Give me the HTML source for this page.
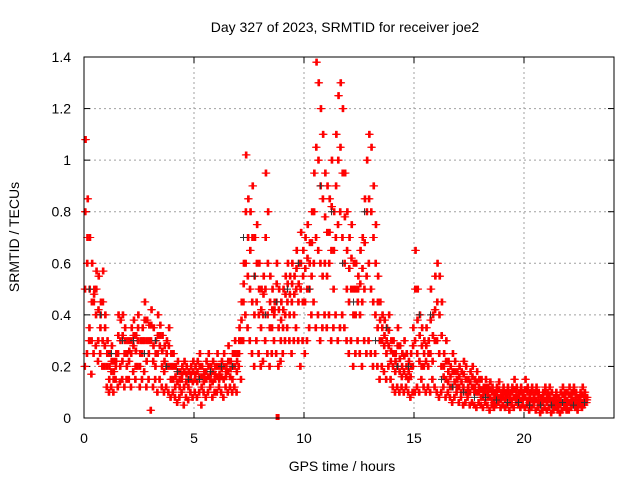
<!DOCTYPE html>
<html><head><meta charset="utf-8"><style>
body{margin:0;background:#fff}
svg text{font-family:"Liberation Sans",sans-serif;font-size:14px;fill:#000}
</style></head><body>
<svg id="chart" width="640" height="480" viewBox="0 0 640 480" xmlns="http://www.w3.org/2000/svg">
<rect width="640" height="480" fill="#fff"/>
<text x="345" y="32" text-anchor="middle">Day 327 of 2023, SRMTID for receiver joe2</text>
<text x="19" y="237" text-anchor="middle" transform="rotate(-90 19 237)">SRMTID / TECUs</text>
<text x="342" y="471" text-anchor="middle">GPS time / hours</text>
<g id="grid"></g>
<g id="ticks"></g>
<g id="red" stroke="#f00" stroke-width="1.1"></g>
<g id="black" stroke="#333" stroke-width="1"></g>
<rect x="84" y="57" width="530" height="361" fill="none" stroke="#000" stroke-width="1"/>
</svg>
<script>
const xTicks=[0,5,10,15,20];
const yTicks=[0,0.2,0.4,0.6,0.8,1,1.2,1.4];
const yTickLabels=["0","0.2","0.4","0.6","0.8","1","1.2","1.4"];
const redHigh=[1.08,0.85,0.7,0.6,0.5,0.57,0.55,0.45,0.57,0.4,
0.3,0.25,0.28,0.22,0.25,0.4,0.38,0.4,0.35,0.3,
0.3,0.35,0.38,0.32,0.4,0.3,0.35,0.45,0.38,0.36,
0.42,0.35,0.3,0.4,0.36,0.32,0.28,0.3,0.35,0.25,
0.25,0.2,0.22,0.18,0.2,0.22,0.2,0.18,0.2,0.22,
0.2,0.22,0.25,0.2,0.18,0.22,0.25,0.2,0.22,0.2,
0.25,0.2,0.22,0.25,0.2,0.28,0.22,0.25,0.3,0.25,
0.35,0.45,0.6,1.02,0.85,0.8,0.9,0.7,0.75,0.6,
0.5,0.55,0.95,0.8,0.55,0.5,0.45,0.6,0.5,0.45,
0.5,0.55,0.6,0.55,0.6,0.55,0.65,0.6,0.72,0.65,
0.7,0.75,0.68,0.8,0.95,1.38,1.3,1.2,1.1,0.95,
0.9,0.85,1.0,0.8,1.1,1.25,1.3,1.2,0.95,0.8,
0.7,0.75,0.6,0.6,0.55,0.65,0.7,0.85,1.0,1.1,
1.05,0.9,0.75,0.55,0.45,0.4,0.38,0.35,0.4,0.3,
0.3,0.25,0.35,0.28,0.25,0.3,0.25,0.22,0.25,0.35,
0.65,0.5,0.4,0.35,0.3,0.35,0.3,0.5,0.4,0.55,
0.6,0.55,0.45,0.25,0.3,0.22,0.2,0.25,0.22,0.18,
0.2,0.18,0.22,0.2,0.15,0.18,0.2,0.15,0.18,0.15,
0.15,0.12,0.15,0.12,0.14,0.12,0.1,0.12,0.14,0.1,
0.12,0.1,0.12,0.1,0.12,0.15,0.12,0.1,0.12,0.1,
0.15,0.12,0.1,0.12,0.1,0.12,0.1,0.08,0.1,0.12,
0.1,0.12,0.1,0.08,0.1,0.08,0.1,0.12,0.1,0.1,
0.12,0.1,0.12,0.1,0.08,0.1,0.12,0.1,0.08];
const redUpper=[0.8,0.7,0.5,0.45,0.48,0.5,0.42,0.4,0.45,0.35,
0.25,0.2,0.22,0.18,0.22,0.32,0.3,0.32,0.3,0.25,
0.26,0.3,0.32,0.26,0.35,0.25,0.3,0.38,0.3,0.3,
0.36,0.28,0.25,0.32,0.32,0.26,0.22,0.25,0.28,0.2,
0.2,0.16,0.18,0.15,0.17,0.18,0.17,0.15,0.17,0.18,
0.17,0.18,0.2,0.16,0.16,0.18,0.2,0.17,0.18,0.17,
0.2,0.17,0.19,0.2,0.18,0.22,0.19,0.2,0.25,0.22,
0.3,0.38,0.52,0.8,0.7,0.65,0.7,0.55,0.6,0.5,
0.42,0.48,0.7,0.6,0.45,0.42,0.42,0.52,0.42,0.38,
0.42,0.48,0.52,0.48,0.52,0.48,0.58,0.52,0.6,0.55,
0.58,0.62,0.6,0.68,0.8,1.05,1.0,0.9,0.85,0.78,
0.72,0.72,0.82,0.65,0.9,1.0,1.05,0.95,0.78,0.65,
0.58,0.62,0.5,0.5,0.5,0.52,0.58,0.68,0.8,0.85,
0.8,0.7,0.6,0.45,0.38,0.35,0.32,0.3,0.34,0.26,
0.25,0.22,0.28,0.23,0.2,0.24,0.2,0.18,0.2,0.28,
0.5,0.38,0.32,0.28,0.25,0.28,0.25,0.38,0.32,0.42,
0.45,0.4,0.32,0.2,0.22,0.18,0.16,0.18,0.18,0.15,
0.16,0.14,0.17,0.15,0.12,0.14,0.16,0.12,0.14,0.12,
0.11,0.1,0.12,0.1,0.11,0.1,0.08,0.1,0.11,0.08,
0.1,0.08,0.1,0.08,0.1,0.11,0.1,0.08,0.1,0.08,
0.11,0.1,0.08,0.1,0.08,0.1,0.08,0.06,0.08,0.1,
0.08,0.09,0.07,0.06,0.08,0.06,0.07,0.09,0.08,0.07,
0.09,0.08,0.1,0.08,0.06,0.08,0.09,0.08,0.07];
const redMid=[0.5,0.6,0.35,0.3,0.45,0.4,0.3,0.35,0.3,0.28,
0.2,0.15,0.18,0.15,0.2,0.25,0.2,0.22,0.25,0.2,
0.22,0.25,0.28,0.2,0.3,0.2,0.25,0.3,0.22,0.25,
0.3,0.22,0.2,0.25,0.28,0.2,0.18,0.2,0.2,0.15,
0.15,0.12,0.14,0.12,0.15,0.12,0.14,0.12,0.15,0.14,
0.15,0.14,0.16,0.12,0.14,0.15,0.16,0.15,0.14,0.15,
0.16,0.15,0.16,0.15,0.16,0.18,0.16,0.15,0.2,0.18,
0.25,0.3,0.45,0.6,0.55,0.5,0.45,0.4,0.45,0.4,
0.35,0.4,0.5,0.4,0.35,0.35,0.4,0.45,0.35,0.3,
0.35,0.4,0.45,0.4,0.45,0.4,0.5,0.45,0.5,0.45,
0.45,0.5,0.5,0.55,0.6,0.7,0.65,0.6,0.55,0.6,
0.55,0.6,0.65,0.5,0.7,0.75,0.8,0.7,0.6,0.5,
0.45,0.5,0.4,0.4,0.45,0.4,0.45,0.5,0.55,0.6,
0.5,0.45,0.4,0.35,0.3,0.3,0.28,0.25,0.28,0.22,
0.2,0.18,0.2,0.18,0.16,0.18,0.16,0.15,0.16,0.2,
0.3,0.25,0.22,0.2,0.2,0.22,0.2,0.25,0.22,0.3,
0.3,0.25,0.2,0.16,0.15,0.14,0.12,0.12,0.14,0.12,
0.12,0.1,0.12,0.1,0.1,0.1,0.12,0.1,0.1,0.1,
0.08,0.08,0.1,0.08,0.08,0.07,0.06,0.08,0.08,0.07,
0.08,0.07,0.08,0.06,0.07,0.08,0.08,0.07,0.07,0.07,
0.08,0.07,0.06,0.07,0.06,0.07,0.06,0.05,0.06,0.07,
0.06,0.07,0.05,0.05,0.06,0.05,0.05,0.06,0.06,0.05,
0.06,0.06,0.07,0.06,0.05,0.07,0.06,0.07,0.07];
const redLow=[0.2,0.25,0.3,0.17,0.25,0.28,0.22,0.25,0.2,0.2,
0.12,0.1,0.12,0.1,0.15,0.12,0.14,0.15,0.12,0.15,
0.15,0.12,0.18,0.15,0.2,0.12,0.15,0.18,0.12,0.15,
0.03,0.12,0.15,0.1,0.15,0.12,0.1,0.12,0.1,0.08,
0.1,0.08,0.06,0.08,0.1,0.05,0.08,0.07,0.1,0.08,
0.1,0.08,0.1,0.05,0.1,0.08,0.1,0.12,0.08,0.1,
0.1,0.12,0.1,0.08,0.12,0.1,0.12,0.1,0.12,0.1,
0.2,0.15,0.3,0.4,0.35,0.3,0.25,0.2,0.3,0.25,
0.2,0.22,0.3,0.25,0.2,0.25,0.3,0.25,0.2,0.22,
0.25,0.3,0.35,0.3,0.25,0.3,0.35,0.3,0.2,0.3,
0.25,0.3,0.35,0.4,0.45,0.35,0.4,0.3,0.35,0.4,
0.35,0.4,0.3,0.35,0.4,0.3,0.35,0.4,0.35,0.3,
0.25,0.3,0.2,0.25,0.3,0.25,0.2,0.3,0.25,0.3,
0.25,0.2,0.25,0.2,0.15,0.2,0.18,0.15,0.2,0.15,
0.12,0.1,0.12,0.1,0.12,0.1,0.12,0.1,0.08,0.1,
0.1,0.12,0.1,0.15,0.12,0.1,0.12,0.1,0.15,0.12,
0.1,0.08,0.1,0.12,0.08,0.1,0.08,0.06,0.08,0.1,
0.06,0.08,0.05,0.06,0.08,0.05,0.06,0.05,0.04,0.06,
0.05,0.04,0.06,0.05,0.03,0.05,0.04,0.05,0.06,0.04,
0.05,0.04,0.05,0.03,0.05,0.04,0.06,0.05,0.04,0.05,
0.04,0.05,0.03,0.04,0.05,0.03,0.04,0.02,0.03,0.04,
0.03,0.04,0.02,0.03,0.04,0.03,0.02,0.03,0.04,0.03,
0.03,0.04,0.05,0.04,0.03,0.05,0.04,0.05,0.06];
const blackVals=[0.5,0.4,0.25,0.3,0.3,0.25,0.3,0.2,0.18,0.15,0.15,0.18,0.2,0.2,0.7,0.55,0.4,0.45,0.5,0.6,0.5,0.9,0.8,0.6,0.45,0.8,0.3,0.35,0.2,0.2,0.4,0.4,0.15,0.12,0.1,0.08,0.08,0.07,0.06,0.06,0.05,0.05,0.05,0.06,0.05,0.06];
const redStep=0.1, blackStep=0.5;

const X0=84,X1=612,Y0=418,Y1=57,XMAX=24,YMAX=1.4;
function sx(t){return X0+(X1-X0)*t/XMAX;}
function sy(v){return Y0-(Y0-Y1)*v/YMAX;}
const NS='http://www.w3.org/2000/svg';
function mk(tag,attrs,parent){const e=document.createElementNS(NS,tag);for(const k in attrs)e.setAttribute(k,attrs[k]);parent.appendChild(e);return e;}
const grid=document.getElementById('grid'),ticks=document.getElementById('ticks');
xTicks.forEach(t=>{
  const x=sx(t);
  if(t>0){const l=mk('line',{x1:x,x2:x,y1:Y1,y2:Y0,stroke:'#a0a0a0','stroke-dasharray':'2,3'},grid);
  
  }
  mk('line',{x1:x,x2:x,y1:Y0,y2:Y0-6,stroke:'#000'},ticks);
  mk('line',{x1:x,x2:x,y1:Y1,y2:Y1+6,stroke:'#000'},ticks);
  const tx=mk('text',{x:x,y:443,'text-anchor':'middle'},ticks);tx.textContent=String(t);
  
  
});
yTicks.forEach((v,i)=>{
  const y=sy(v);
  if(v>0&&v<YMAX){const l=mk('line',{x1:X0,x2:614,y1:y,y2:y,stroke:'#a0a0a0','stroke-dasharray':'2,3'},grid);
  
  }
  mk('line',{x1:X0,x2:X0+6,y1:y,y2:y,stroke:'#000'},ticks);
  mk('line',{x1:608,x2:614,y1:y,y2:y,stroke:'#000'},ticks);
  const tx=mk('text',{x:71,y:y+5,'text-anchor':'end'},ticks);tx.textContent=yTickLabels[i];
  
  
});
function plus(g,t,v){
  const x=sx(t),y=sy(v);
  const p=mk('path',{d:`M${x-3.5},${y}h7M${x},${y-3.5}v7`},g);
  
  
}
const bg=document.getElementById('black'),rg=document.getElementById('red');
const tOff=[0,0.035,0.07];
[redLow,redMid,redUpper,redHigh].forEach((arr,k)=>{
  arr.forEach((v,i)=>tOff.forEach(o=>plus(rg,i*redStep+o+k*0.012,v)));
});
blackVals.forEach((v,i)=>plus(bg,i*blackStep+0.25,v));
const m=mk('rect',{x:sx(8.8)-2,y:Y0-4,width:4,height:6,fill:'#f00',stroke:'none'},rg);


</script>
</body></html>
